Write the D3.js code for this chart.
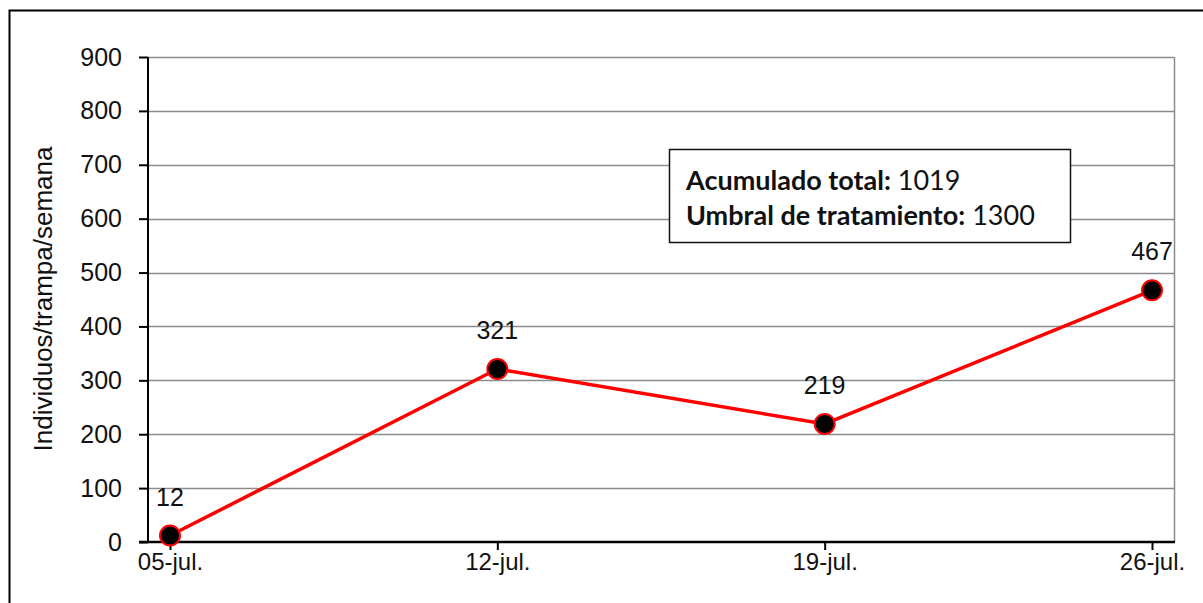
<!DOCTYPE html>
<html>
<head>
<meta charset="utf-8">
<script src="https://cdn.jsdelivr.net/npm/d3@7"></script>
<style>
  body { margin: 0; background: #fff; }
  svg text { font-family: "Liberation Sans", Arial, sans-serif; }
</style>
</head>
<body>
<div id="chart"></div>
<script>
// data
const fechas = ['05-jul.', '12-jul.', '19-jul.', '26-jul.'];
const capturas = [12, 321, 219, 467];
const yTicks = [0, 100, 200, 300, 400, 500, 600, 700, 800, 900];
const notaLineas = [['Acumulado total:', ' 1019'], ['Umbral de tratamiento:', ' 1300']];

const W = 1203, H = 603;
const plot = {left: 148, top: 57, right: 1174, bottom: 542};

var svg = d3.select('#chart').append('svg')
    .attr('width', W)
    .attr('height', H);

// outer frame (only top and left edges visible in the crop)
svg.append('path')
    .attr('d', 'M9.5,603 L9.5,10.5 L1203,10.5')
    .attr('fill', 'none')
    .attr('stroke', '#000')
    .attr('stroke-width', 2);

var y = d3.scaleLinear()
    .domain([0, 900])
    .range([plot.bottom, plot.top]);

var x = d3.scalePoint()
    .domain(fechas)
    .range([plot.left + 22, plot.right - 22]);

// grid lines
svg.append('g')
    .selectAll('line')
    .data(yTicks.filter(function(d){ return d > 0 }))
  .enter().append('line')
    .attr('x1', plot.left)
    .attr('x2', plot.right)
    .attr('y1', function(d){ return Math.round(y(d)) + 0.5 })
    .attr('y2', function(d){ return Math.round(y(d)) + 0.5 })
    .attr('stroke', '#8c8c8c')
    .attr('stroke-width', 1.5);

// right border of plot area
svg.append('line')
    .attr('x1', plot.right + 0.5).attr('x2', plot.right + 0.5)
    .attr('y1', plot.top).attr('y2', plot.bottom)
    .attr('stroke', '#8c8c8c')
    .attr('stroke-width', 1.5);

// y axis
var yAxis = d3.axisLeft(y)
    .tickValues(yTicks)
    .tickSize(9)
    .tickPadding(17);

var gy = svg.append('g')
    .attr('transform', 'translate(' + plot.left + ',0)')
    .call(yAxis);
gy.select('.domain').attr('stroke-width', 2).attr('d', 'M0,' + plot.top + 'V' + plot.bottom);
gy.selectAll('.tick line').attr('stroke-width', 2);
gy.selectAll('text')
    .attr('font-size', 25)
    .attr('fill', '#111')
    .style('font-family', '"Liberation Sans", Arial, sans-serif');

// x axis
var xAxis = d3.axisBottom(x)
    .tickSize(8)
    .tickPadding(3);

var gx = svg.append('g')
    .attr('transform', 'translate(0,' + plot.bottom + ')')
    .call(xAxis);
gx.select('.domain').attr('stroke-width', 2.5).attr('d', 'M' + (plot.left - 9) + ',0H' + (plot.right + 1));
gx.selectAll('.tick line').attr('stroke-width', 2);
gx.selectAll('text')
    .attr('font-size', 24)
    .attr('fill', '#111')
    .style('font-family', '"Liberation Sans", Arial, sans-serif');

// y label
svg.append('text')
    .attr('transform', 'translate(52,299) rotate(-90)')
    .attr('text-anchor', 'middle')
    .attr('font-size', 26)
    .attr('fill', '#111')
    .text('Individuos/trampa/semana');

// series line
var line = d3.line()
    .x(function(d, i){ return x(fechas[i]) })
    .y(function(d){ return y(d) });

svg.append('path')
    .datum(capturas)
    .attr('d', line)
    .attr('fill', 'none')
    .attr('stroke', '#ff0000')
    .attr('stroke-width', 3.5);

svg.append('g')
    .selectAll('circle')
    .data(capturas)
  .enter().append('circle')
    .attr('cx', function(d, i){ return x(fechas[i]) })
    .attr('cy', function(d){ return y(d) })
    .attr('r', 10)
    .attr('fill', '#000')
    .attr('stroke', '#ff0000')
    .attr('stroke-width', 2);

// data labels
svg.append('g')
    .selectAll('text')
    .data(capturas)
  .enter().append('text')
    .attr('x', function(d, i){ return x(fechas[i]) })
    .attr('y', function(d){ return y(d) - 30 })
    .attr('text-anchor', 'middle')
    .attr('font-size', 25)
    .attr('fill', '#111')
    .text(function(d){ return d });

// annotation box
var box = svg.append('g').attr('transform', 'translate(669,149)');
box.append('rect')
    .attr('x', 0.5).attr('y', 0.5)
    .attr('width', 401).attr('height', 93)
    .attr('fill', '#fff')
    .attr('stroke', '#111')
    .attr('stroke-width', 1.5);

var nota = box.selectAll('text.nota')
    .data(notaLineas)
  .enter().append('text')
    .attr('class', 'nota')
    .attr('x', 17)
    .attr('y', function(d, i){ return 41 + i * 35 })
    .attr('font-size', 27)
    .attr('fill', '#111')
    .style('font-family', 'Lato, "Open Sans", sans-serif');
nota.append('tspan').attr('font-weight', 'bold').text(function(d){ return d[0] });
nota.append('tspan').text(function(d){ return d[1] });
</script>
</body>
</html>
